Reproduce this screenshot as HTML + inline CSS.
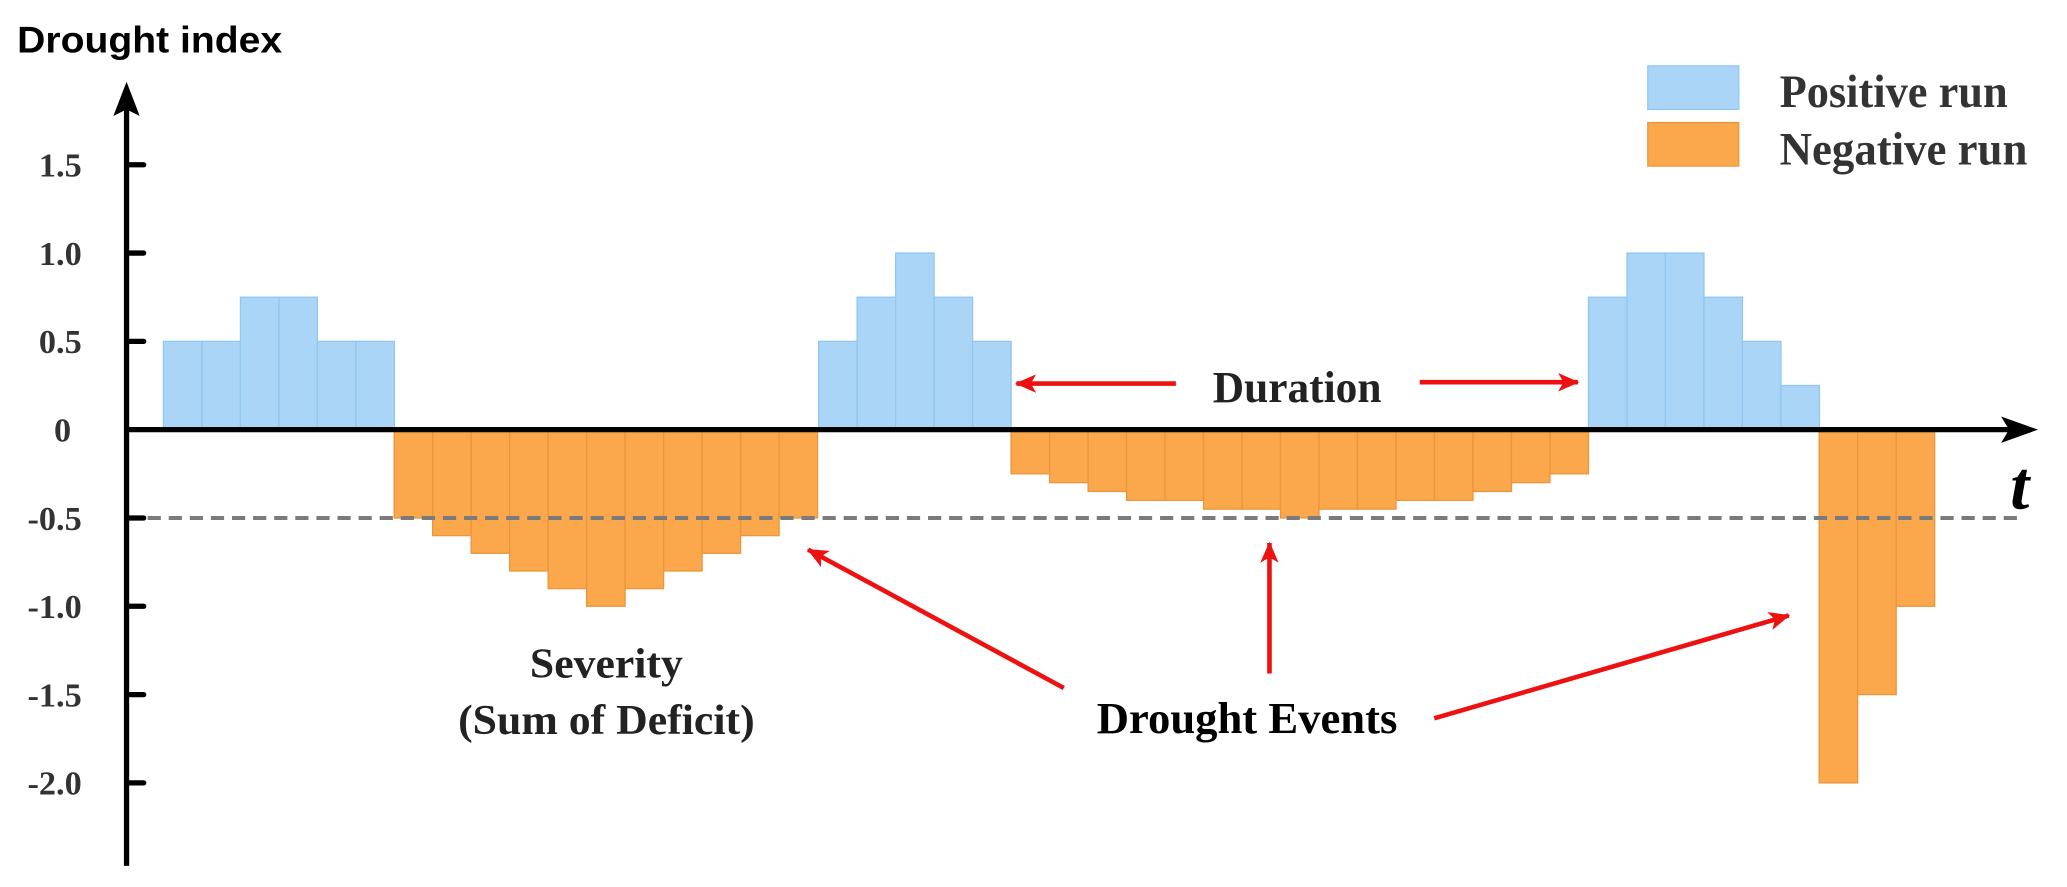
<!DOCTYPE html>
<html><head><meta charset="utf-8"><style>html,body{margin:0;padding:0;background:#fff}svg{display:block}</style></head>
<body>
<svg width="2067" height="887" viewBox="0 0 1568 673" preserveAspectRatio="none" xmlns="http://www.w3.org/2000/svg">
<defs>
<marker id="ah" markerWidth="16" markerHeight="14" refX="15" refY="7" orient="auto" markerUnits="userSpaceOnUse"><path d="M0,0 L16,7 L0,14 L4,7 Z" fill="#ee1111"/></marker>
</defs>
<g fill="#abd5f7" stroke="#92c7ef">
<rect x="124" y="259" width="29.2" height="67"/><rect x="153.2" y="259" width="29.2" height="67"/><rect x="182.4" y="225.5" width="29.2" height="100.5"/><rect x="211.6" y="225.5" width="29.2" height="100.5"/><rect x="240.8" y="259" width="29.2" height="67"/><rect x="270" y="259" width="29.2" height="67"/>
<rect x="621" y="259" width="29.2" height="67"/><rect x="650.2" y="225.5" width="29.2" height="100.5"/><rect x="679.4" y="192" width="29.2" height="134"/><rect x="708.6" y="225.5" width="29.2" height="100.5"/><rect x="737.8" y="259" width="29.2" height="67"/>
<rect x="1205" y="225.5" width="29.2" height="100.5"/><rect x="1234.2" y="192" width="29.2" height="134"/><rect x="1263.4" y="192" width="29.2" height="134"/><rect x="1292.6" y="225.5" width="29.2" height="100.5"/><rect x="1321.8" y="259" width="29.2" height="67"/><rect x="1351" y="292.5" width="29.2" height="33.5"/>
</g>
<g fill="#fba74b" stroke="#eb963c">
<rect x="299" y="326" width="29.2" height="67"/><rect x="328.2" y="326" width="29.2" height="80.4"/><rect x="357.4" y="326" width="29.2" height="93.8"/><rect x="386.6" y="326" width="29.2" height="107.2"/><rect x="415.8" y="326" width="29.2" height="120.6"/><rect x="445" y="326" width="29.2" height="134"/><rect x="474.2" y="326" width="29.2" height="120.6"/><rect x="503.4" y="326" width="29.2" height="107.2"/><rect x="532.6" y="326" width="29.2" height="93.8"/><rect x="561.8" y="326" width="29.2" height="80.4"/><rect x="591" y="326" width="29.2" height="67"/>
<rect x="767" y="326" width="29.2" height="33.5"/><rect x="796.2" y="326" width="29.2" height="40.2"/><rect x="825.4" y="326" width="29.2" height="46.9"/><rect x="854.6" y="326" width="29.2" height="53.6"/><rect x="883.8" y="326" width="29.2" height="53.6"/><rect x="913" y="326" width="29.2" height="60.3"/><rect x="942.2" y="326" width="29.2" height="60.3"/><rect x="971.4" y="326" width="29.2" height="67"/><rect x="1000.6" y="326" width="29.2" height="60.3"/><rect x="1029.8" y="326" width="29.2" height="60.3"/><rect x="1059" y="326" width="29.2" height="53.6"/><rect x="1088.2" y="326" width="29.2" height="53.6"/><rect x="1117.4" y="326" width="29.2" height="46.9"/><rect x="1146.6" y="326" width="29.2" height="40.2"/><rect x="1175.8" y="326" width="29.2" height="33.5"/>
<rect x="1380" y="326" width="29.2" height="268"/><rect x="1409.2" y="326" width="29.2" height="201"/><rect x="1438.4" y="326" width="29.2" height="134"/>
</g>
<line x1="96" y1="393" x2="1535" y2="393" stroke="#7a7a7a" stroke-width="3" stroke-dasharray="10,6"/>
<line x1="96" y1="80" x2="96" y2="657" stroke="#000" stroke-width="4"/>
<path d="M96,62 L106,88 L96,83 L86,88 Z" fill="#000"/>
<line x1="96" y1="326" x2="1525" y2="326" stroke="#000" stroke-width="4"/>
<path d="M1546,326 L1518,316 L1524,326 L1518,336 Z" fill="#000"/>
<g stroke="#000" stroke-width="4" stroke-linecap="round">
<line x1="96" y1="125" x2="109" y2="125"/><line x1="96" y1="192" x2="109" y2="192"/><line x1="96" y1="259" x2="109" y2="259"/><line x1="96" y1="393" x2="109" y2="393"/><line x1="96" y1="460" x2="109" y2="460"/><line x1="96" y1="527" x2="109" y2="527"/><line x1="96" y1="594" x2="109" y2="594"/>
</g>
<g font-family="Liberation Serif, serif" font-weight="bold" font-size="26" fill="#333" text-anchor="end">
<text x="62" y="134">1.5</text><text x="62" y="201">1.0</text><text x="62" y="268">0.5</text><text x="54" y="335">0</text><text x="62" y="402">-0.5</text><text x="62" y="469">-1.0</text><text x="62" y="536">-1.5</text><text x="62" y="603">-2.0</text>
</g>
<text x="13" y="40" font-family="Liberation Sans, sans-serif" font-weight="bold" font-size="28" textLength="201" lengthAdjust="spacingAndGlyphs">Drought index</text>
<rect x="1250" y="50" width="69" height="33" fill="#abd5f7" stroke="#92c7ef"/>
<rect x="1250" y="93" width="69" height="33" fill="#fba74b" stroke="#eb963c"/>
<g font-family="Liberation Serif, serif" font-weight="bold" font-size="35" fill="#333">
<text x="1350" y="81" textLength="173" lengthAdjust="spacingAndGlyphs">Positive run</text>
<text x="1350" y="125" textLength="188" lengthAdjust="spacingAndGlyphs">Negative run</text>
</g>
<g font-family="Liberation Serif, serif" font-weight="bold" fill="#222" text-anchor="middle">
<text x="984" y="305" font-size="34" textLength="128" lengthAdjust="spacingAndGlyphs">Duration</text>
<text x="460" y="514" font-size="32" textLength="116" lengthAdjust="spacingAndGlyphs">Severity</text>
<text x="460" y="557" font-size="32" textLength="225" lengthAdjust="spacingAndGlyphs">(Sum of Deficit)</text>
<text x="946" y="556" font-size="34" fill="#000" textLength="228" lengthAdjust="spacingAndGlyphs">Drought Events</text>
</g>
<text x="1525" y="386" font-family="Liberation Serif, serif" font-weight="bold" font-style="italic" font-size="52">t</text>
<g stroke="#ee1111" stroke-width="3.5" fill="none" marker-end="url(#ah)">
<line x1="892" y1="291" x2="771" y2="291"/>
<line x1="1077" y1="290" x2="1197" y2="290"/>
<line x1="807" y1="522" x2="613" y2="417"/>
<line x1="963" y1="511" x2="963" y2="412"/>
<line x1="1088" y1="545" x2="1357" y2="467"/>
</g>
</svg>
</body></html>
